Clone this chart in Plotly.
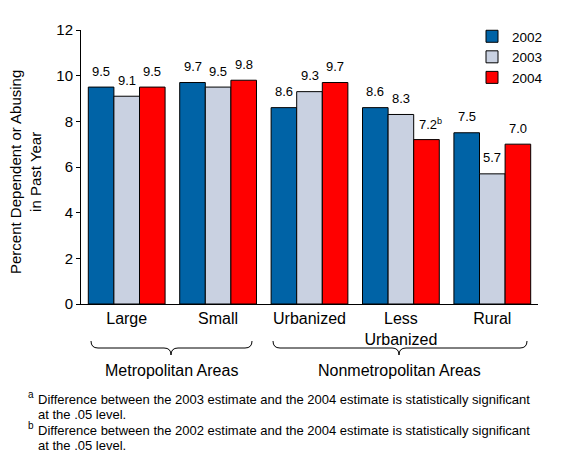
import plotly.graph_objects as go

categories = ["Large", "Small", "Urbanized", "Less<br>Urbanized", "Rural"]
years = ["2002", "2003", "2004"]
v2002 = [9.5, 9.7, 8.6, 8.6, 7.5]
v2003 = [9.1, 9.5, 9.3, 8.3, 5.7]
v2004 = [9.5, 9.8, 9.7, 7.2, 7.0]
labels2002 = ["9.5", "9.7", "8.6", "8.6", "7.5"]
labels2003 = ["9.1", "9.5", "9.3", "8.3", "5.7"]
labels2004 = ["9.5", "9.8", "9.7", "7.2<sup>b</sup>", "7.0"]
colors = ["#0063A6", "#C9D1E1", "#FF0000"]
y_ticks = [0, 2, 4, 6, 8, 10, 12]

FONT = "Arial, Liberation Sans, sans-serif"
OFF = 8  # default page body margin
W, H = 576 - OFF, 459 - OFF
# plot area in page pixels: x 81..538, y 30..304
L, T = 81 - OFF, 30 - OFF
R = W - (538 - OFF)
B = H - (304 - OFF)
PW, PH = W - L - R, H - T - B

def px(x):  # page pixel -> paper x
    return (x - OFF - L) / PW

def py(y):  # page pixel -> paper y
    return (H - B - (y - OFF)) / PH

fig = go.Figure()
series = [v2002, v2003, v2004]
lab = [labels2002, labels2003, labels2004]
xs = list(range(len(categories)))
for i, (yr, vals) in enumerate(zip(years, series)):
    fig.add_trace(go.Bar(
        x=xs, y=vals, name=yr,
        marker=dict(color=colors[i], line=dict(color="black", width=1)),
    ))

# value labels
bar_w = PW / len(categories) * (1 - 0.16) / 3
for i, vals in enumerate(series):
    for j, v in enumerate(vals):
        fig.add_annotation(
            x=j, y=v, xref="x", yref="y", text=lab[i][j], showarrow=False,
            xshift=(i - 1) * bar_w + (4 if "sup" in lab[i][j] else 0), yshift=16,
            font=dict(family=FONT, size=13, color="black"),
        )

def brace(x0, x1, xt, ytop, yline, ytip):
    a, b_, c = px(x0), px(x1), px(xt)
    yt, yl, yp = py(ytop), py(yline), py(ytip)
    k = 7 / PW
    return (f"M {a} {yt} Q {a} {yl} {a+k} {yl} L {c-k} {yl} "
            f"Q {c} {yl} {c} {yp} Q {c} {yl} {c+k} {yl} "
            f"L {b_-k} {yl} Q {b_} {yl} {b_} {yt}")

for (x0, x1, xt) in [(91, 252, 171), (273, 527, 399)]:
    fig.add_shape(type="path", xref="paper", yref="paper",
                  path=brace(x0, x1, xt, 341, 348, 355),
                  line=dict(color="black", width=1))

for text, xc in [("Metropolitan Areas", 171), ("Nonmetropolitan Areas", 399)]:
    fig.add_annotation(x=px(xc), y=py(370), xref="paper", yref="paper",
                       text=text, showarrow=False, xanchor="center", yanchor="middle",
                       font=dict(family=FONT, size=16, color="black"))

# y axis title
fig.add_annotation(x=px(26), y=py(172), xref="paper", yref="paper",
                   text="Percent Dependent or Abusing<br>in Past Year",
                   textangle=-90, showarrow=False, xanchor="center", yanchor="middle",
                   font=dict(family=FONT, size=15, color="black"))

foot = [
    ("a", "Difference between the 2003 estimate and the 2004 estimate is statistically significant", 399, 394),
    (None, "at the .05 level.", 414, None),
    ("b", "Difference between the 2002 estimate and the 2004 estimate is statistically significant", 430, 425),
    (None, "at the .05 level.", 445, None),
]
for sup, text, yy, ys in foot:
    fig.add_annotation(x=px(36), y=py(yy), xref="paper", yref="paper",
                       text=text, showarrow=False, xanchor="left", yanchor="middle",
                       font=dict(family=FONT, size=13, color="black"))
    if sup:
        fig.add_annotation(x=px(26), y=py(ys), xref="paper", yref="paper",
                           text=sup, showarrow=False, xanchor="left", yanchor="middle",
                           font=dict(family=FONT, size=10, color="black"))

fig.update_layout(
    width=W, height=H,
    margin=dict(l=L, r=R, t=T, b=B, autoexpand=False),
    paper_bgcolor="white", plot_bgcolor="white",
    barmode="group", bargap=0.16, bargroupgap=0,
    font=dict(family=FONT, size=14, color="black"),
    showlegend=True,
    legend=dict(x=px(472), y=py(21), xanchor="left", yanchor="top",
                bgcolor="rgba(0,0,0,0)", font=dict(size=13.5),
                tracegroupgap=0, itemwidth=30),
    xaxis=dict(tickmode="array", tickvals=xs, ticktext=categories,
               range=[-0.5, len(categories) - 0.5],
               showline=True, linecolor="black", linewidth=1,
               ticks="", showgrid=False, zeroline=False,
               tickfont=dict(size=16)),
    yaxis=dict(range=[0, 12], tickvals=y_ticks,
               showline=True, linecolor="black", linewidth=1,
               ticks="outside", ticklen=4, tickcolor="black",
               showgrid=False, zeroline=False,
               tickfont=dict(size=15)),
)

fig.write_html("out.html")
